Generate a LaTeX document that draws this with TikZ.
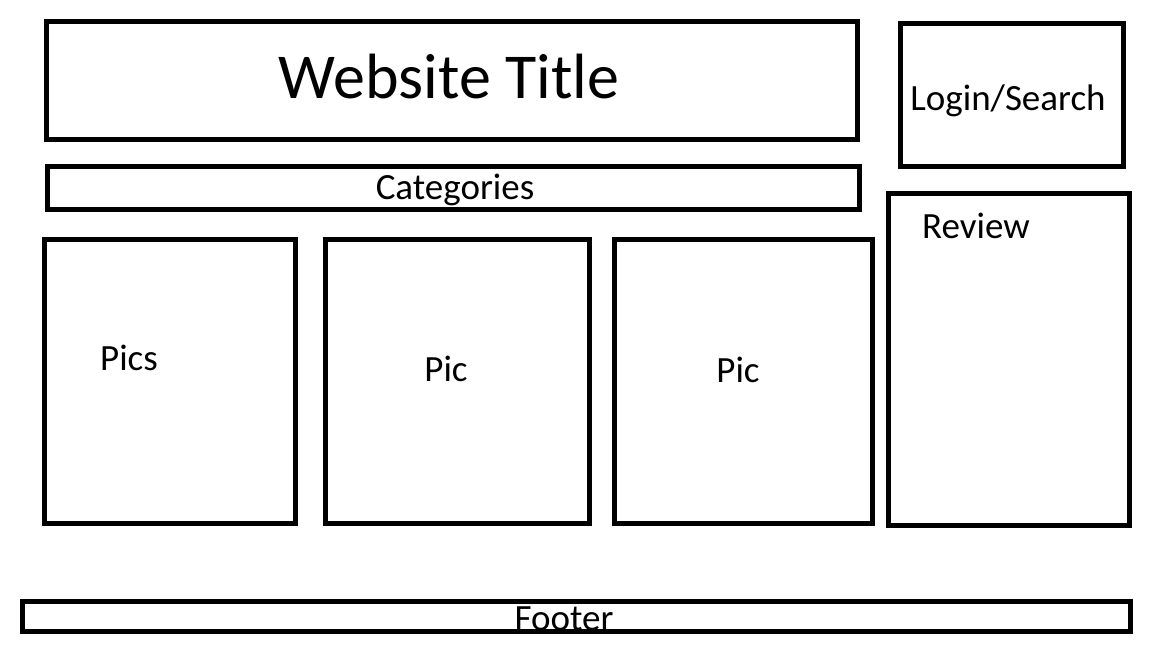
\documentclass[tikz,border=0pt]{standalone}
\usepackage{fontspec}
\setmainfont{Carlito}
\begin{document}
\begin{tikzpicture}[x=1pt,y=-1pt,
  panel/.style={draw=black,line width=5pt,fill=white},
  lbl/.style={inner sep=0pt,anchor=center,font=\fontsize{37}{37}\selectfont}]
% page frame
\fill[white] (0,0) rectangle (1152,648);
\useasboundingbox (0,0) rectangle (1152,648);
% boxes of the page layout
\draw[panel] (46.5,21.5) rectangle (857,139);
\draw[panel] (47.5,166.5) rectangle (859,209);
\draw[panel] (900,23.5) rectangle (1123.5,166);
\draw[panel] (888.5,193.5) rectangle (1129,525);
\draw[panel] (44,239.5) rectangle (295,523);
\draw[panel] (325.5,239.5) rectangle (589,523);
\draw[panel] (614.5,239.5) rectangle (872,523);
\draw[panel] (22.5,601) rectangle (1130,631);
% labels
\node[lbl,font=\fontsize{64}{64}\selectfont] (title) at (449,77) {Website Title};
\node[lbl] (cats) at (455,190) {Categories};
\node[lbl] (login) at (1008,101) {Login/Search};
\node[lbl] (review) at (976,226) {Review};
\node[lbl] (pics) at (129,358) {Pics};
\node[lbl] (picA) at (446,369) {Pic};
\node[lbl] (picB) at (738,370) {Pic};
\node[lbl] (footer) at (564,619) {Footer};
\end{tikzpicture}
\end{document}
